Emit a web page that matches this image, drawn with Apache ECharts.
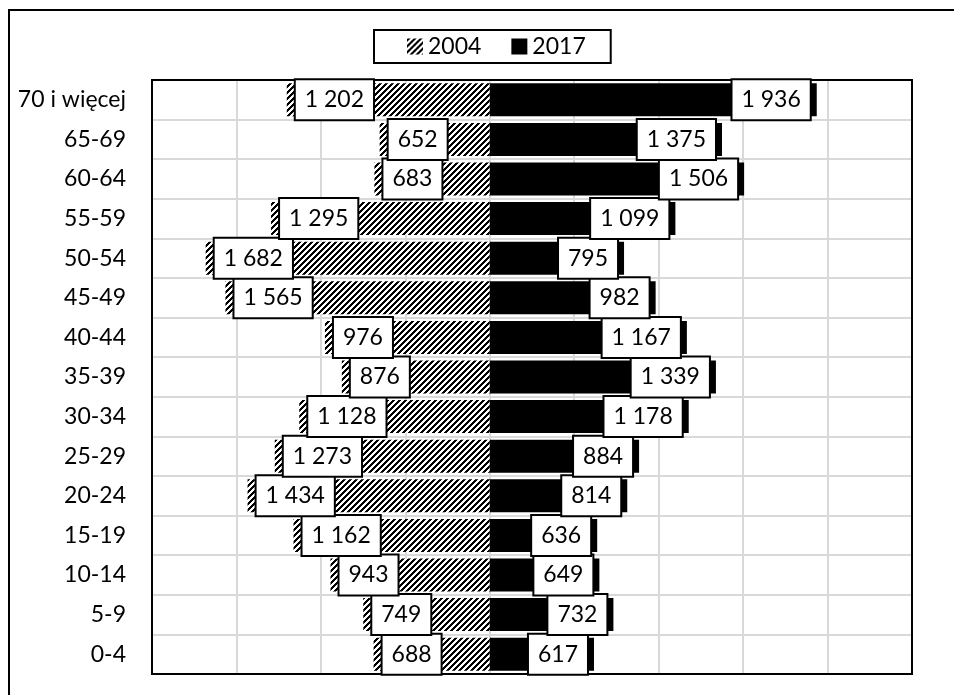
<!DOCTYPE html>
<html>
<head>
<meta charset="utf-8">
<script src="https://cdn.jsdelivr.net/npm/echarts@6/dist/echarts.min.js"></script>
<style>
html,body{margin:0;padding:0;background:#fff;}
#c{width:954px;height:695px;}
</style>
</head>
<body>
<div id="c"></div>
<script>
const categories = ['0-4','5-9','10-14','15-19','20-24','25-29','30-34','35-39','40-44','45-49','50-54','55-59','60-64','65-69','70 i więcej'];
const values2004 = [688, 749, 943, 1162, 1434, 1273, 1128, 876, 976, 1565, 1682, 1295, 683, 652, 1202];
const values2017 = [617, 732, 649, 636, 814, 884, 1178, 1339, 1167, 982, 795, 1099, 1506, 1375, 1936];
const seriesNames = ['2004', '2017'];

function makeHatch() {
  const s = 6;
  const cv = document.createElement('canvas');
  cv.width = s; cv.height = s;
  const ctx = cv.getContext('2d');
  const img = ctx.createImageData(s, s);
  for (let y = 0; y < s; y++) {
    for (let x = 0; x < s; x++) {
      const i = (y * s + x) * 4;
      const on = ((x + y) % s) < 3;
      const v = on ? 0 : 255;
      img.data[i] = v; img.data[i+1] = v; img.data[i+2] = v; img.data[i+3] = 255;
    }
  }
  ctx.putImageData(img, 0, 0);
  return cv;
}
const hatch = { image: makeHatch(), repeat: 'repeat' };

const FONT = 'Lato';
function fmt(v) {
  const n = Math.abs(v);
  return String(n).replace(/\B(?=(\d{3})+(?!\d))/g, ' ');
}
const labelBox = {
  show: true,
  color: '#000',
  fontFamily: FONT,
  fontSize: 23,
  lineHeight: 27,
  backgroundColor: '#fff',
  borderColor: '#000',
  borderWidth: 2,
  padding: [6, 9, 6, 9],
  formatter: p => fmt(p.value)
};

const G = { left: 152, right: 42, top: 80, bottom: 21 };

const chart = echarts.init(document.getElementById('c'), null, { renderer: 'canvas' });
chart.setOption({
  animation: false,
  backgroundColor: '#fff',
  graphic: [{
    type: 'rect',
    shape: { x: 9, y: 10, width: 980, height: 720 },
    style: { fill: 'none', stroke: '#000', lineWidth: 2 },
    silent: true, z: -10
  }, {
    type: 'rect',
    shape: { x: G.left, y: G.top, width: 954 - G.left - G.right, height: 695 - G.top - G.bottom },
    style: { fill: 'none', stroke: '#000', lineWidth: 2 },
    silent: true, z: 1
  }],
  legend: {
    data: seriesNames,
    left: 374,
    top: 30,
    padding: [5, 25, 5, 33],
    itemGap: 30,
    itemWidth: 16,
    itemHeight: 16,
    icon: 'rect',
    borderColor: '#000',
    borderWidth: 2,
    textStyle: { fontFamily: FONT, fontSize: 23, color: '#000' }
  },
  grid: {
    left: G.left, right: G.right, top: G.top, bottom: G.bottom,
    show: false
  },
  xAxis: {
    type: 'value',
    min: -2000, max: 2500, interval: 500,
    axisLabel: { show: false },
    axisLine: { show: false },
    axisTick: { show: false },
    splitLine: { show: true, lineStyle: { color: '#d9d9d9', width: 2 } }
  },
  yAxis: {
    type: 'category',
    data: categories,
    axisLine: { show: false },
    axisTick: { show: false },
    axisLabel: { fontFamily: FONT, fontSize: 23, color: '#000', margin: 26 },
    splitLine: { show: true, lineStyle: { color: '#d9d9d9', width: 2 } }
  },
  series: [
    {
      name: seriesNames[0],
      type: 'bar',
      data: values2004.map(v => -v),
      barWidth: 33,
      barGap: '-100%',
      z: 3,
      itemStyle: { color: hatch },
      label: Object.assign({}, labelBox, { position: 'insideLeft', distance: 9 })
    },
    {
      name: seriesNames[1],
      type: 'bar',
      data: values2017,
      barWidth: 33,
      z: 3,
      itemStyle: { color: '#000' },
      label: Object.assign({}, labelBox, { position: 'insideRight', distance: 7 })
    }
  ]
});
</script>
</body>
</html>
